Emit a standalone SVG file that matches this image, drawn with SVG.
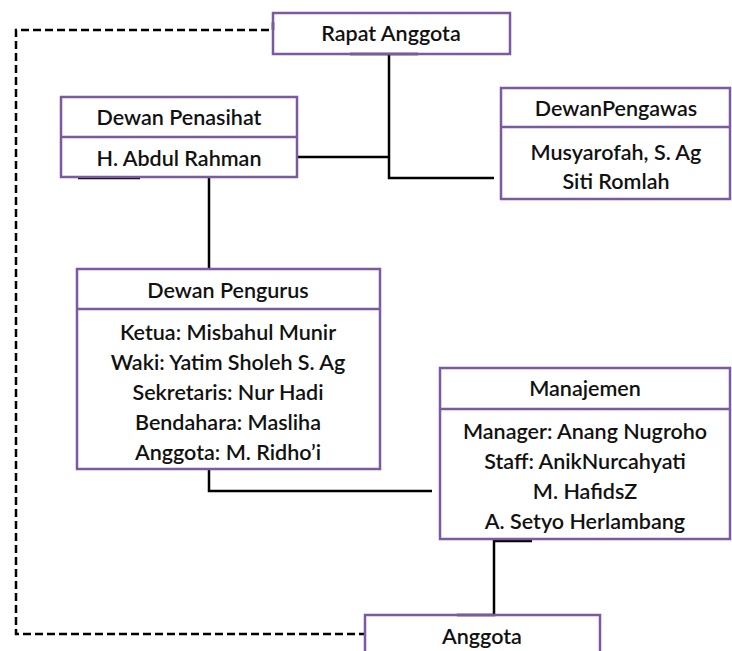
<svg xmlns="http://www.w3.org/2000/svg" width="732" height="651" viewBox="0 0 732 651">
<style>
.box{fill:none;stroke:#7a5aa0;stroke-width:2.5}
.t{font-family:Lato,"Open Sans","Liberation Sans",sans-serif;font-size:21.5px;font-weight:600;fill:#111;text-anchor:middle}
.c{fill:none;stroke:#000;stroke-width:2.5}
.d{fill:none;stroke:#000;stroke-width:2.5;stroke-dasharray:8 4}
</style>
<rect width="732" height="651" fill="#fff"/>
<g id="connectors">
<path class="c" d="M350 54H418M389 54V178H494M297 157H389"/>
<path class="c" d="M78 178H140M209 178V269"/>
<path class="c" d="M209 469V491H432"/>
<path class="c" d="M532 541H494V615H457"/>
<path class="d" d="M273 22V30H16V634H365"/>
</g>
<g id="rapat-anggota">
<rect class="box" x="273" y="13" width="237" height="41"/>
<text class="t" x="391" y="41">Rapat Anggota</text>
</g>
<g id="dewan-penasihat">
<rect class="box" x="61" y="97" width="236" height="80"/>
<line class="box" x1="61" y1="137" x2="297" y2="137"/>
<text class="t" x="179" y="125">Dewan Penasihat</text>
<text class="t" x="179" y="166">H. Abdul Rahman</text>
</g>
<g id="dewan-pengawas">
<rect class="box" x="501" y="88" width="229" height="111"/>
<line class="box" x1="501" y1="127" x2="730" y2="127"/>
<text class="t" x="616" y="116">DewanPengawas</text>
<text class="t" x="616" y="160">Musyarofah, S. Ag</text>
<text class="t" x="616" y="189">Siti Romlah</text>
</g>
<g id="dewan-pengurus">
<rect class="box" x="77" y="269" width="303" height="200"/>
<line class="box" x1="77" y1="309" x2="380" y2="309"/>
<text class="t" x="228" y="298">Dewan Pengurus</text>
<text class="t" x="228" y="340">Ketua: Misbahul Munir</text>
<text class="t" x="228" y="370">Waki: Yatim Sholeh S. Ag</text>
<text class="t" x="228" y="400">Sekretaris: Nur Hadi</text>
<text class="t" x="228" y="430">Bendahara: Masliha</text>
<text class="t" x="228" y="460">Anggota: M. Ridho’i</text>
</g>
<g id="manajemen">
<rect class="box" x="440" y="368" width="290" height="171"/>
<line class="box" x1="440" y1="409" x2="730" y2="409"/>
<text class="t" x="585" y="396">Manajemen</text>
<text class="t" x="585" y="439">Manager: Anang Nugroho</text>
<text class="t" x="585" y="469">Staff: AnikNurcahyati</text>
<text class="t" x="585" y="499">M. HafidsZ</text>
<text class="t" x="585" y="529">A. Setyo Herlambang</text>
</g>
<g id="anggota">
<rect class="box" x="365" y="615" width="235" height="50"/>
<text class="t" x="482" y="644">Anggota</text>
</g>
</svg>
